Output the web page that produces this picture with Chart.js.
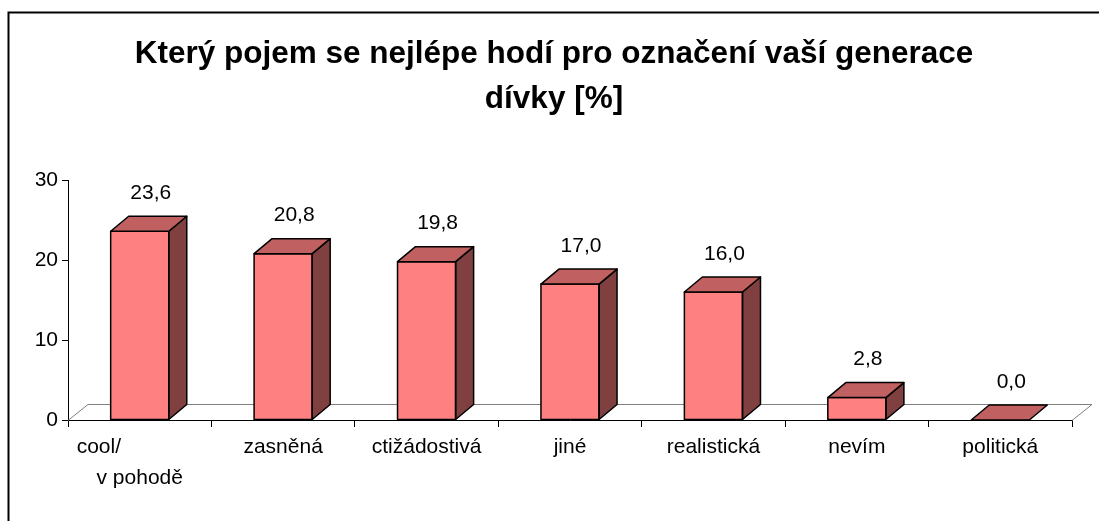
<!DOCTYPE html>
<html>
<head>
<meta charset="utf-8">
<script src="https://cdn.jsdelivr.net/npm/chart.js@4/dist/chart.umd.min.js"></script>
<style>
  body { margin: 0; background: #fff; }
  canvas { display: block; }
</style>
</head>
<body>
<canvas id="chart" width="1099" height="521"></canvas>
<script>
// data
const categories = [['cool/', 'v pohodě'], 'zasněná', 'ctižádostivá', 'jiné', 'realistická', 'nevím', 'politická'];
const values = [23.6, 20.8, 19.8, 17.0, 16.0, 2.8, 0.0];
const yTicks = [0, 10, 20, 30];
const titleLines = ['Který pojem se nejlépe hodí pro označení vaší generace', 'dívky [%]'];

// 3D look
const DX = 18, DY = -15;        // bar depth
const FX = 20, FY = -16;        // floor depth
const frontCol = '#ff8080', topCol = '#c06060', sideCol = '#804040';

Chart.defaults.font.family = '"Liberation Sans", Arial, sans-serif';
Chart.defaults.color = '#000';

const framePlugin = {
  id: 'frame',
  beforeDraw(chart) {
    const c = chart.ctx;
    c.save();
    c.fillStyle = '#fff';
    c.fillRect(0, 0, chart.width, chart.height);
    c.strokeStyle = '#000';
    c.lineWidth = 2;
    c.strokeRect(8.5, 12.5, chart.width + 20, chart.height + 20);
    c.restore();
  }
};

const floorPlugin = {
  id: 'floor',
  beforeDatasetsDraw(chart) {
    const c = chart.ctx, a = chart.chartArea;
    const y0 = chart.scales.y.getPixelForValue(0);
    c.save();
    c.strokeStyle = '#808080';
    c.lineWidth = 1;
    c.beginPath();
    c.moveTo(a.left, y0 + 0.5);
    c.lineTo(a.left + FX, y0 + FY + 0.5);
    c.lineTo(a.right + FX, y0 + FY + 0.5);
    c.lineTo(a.right, y0 + 0.5);
    c.stroke();
    c.restore();
  }
};

const boxPlugin = {
  id: 'box3d',
  afterDatasetsDraw(chart) {
    const c = chart.ctx;
    const meta = chart.getDatasetMeta(0);
    c.save();
    c.lineWidth = 1.5;
    c.lineJoin = 'round';
    c.strokeStyle = '#000';
    meta.data.forEach((bar, i) => {
      const xl = bar.x - bar.width / 2, xr = bar.x + bar.width / 2;
      const yt = bar.y, yb = bar.base;
      // side
      if (yb - yt > 0.5) {
        c.beginPath();
        c.moveTo(xr, yt);
        c.lineTo(xr + DX, yt + DY);
        c.lineTo(xr + DX, yb + DY);
        c.lineTo(xr, yb);
        c.closePath();
        c.fillStyle = sideCol;
        c.fill();
        c.stroke();
        c.beginPath();
        c.rect(xl, yt, xr - xl, yb - yt);
        c.stroke();
      }
      // top
      c.beginPath();
      c.moveTo(xl, yt);
      c.lineTo(xl + DX, yt + DY);
      c.lineTo(xr + DX, yt + DY);
      c.lineTo(xr, yt);
      c.closePath();
      c.fillStyle = topCol;
      c.fill();
      c.stroke();
      // value label
      c.fillStyle = '#000';
      c.font = '21px "Liberation Sans", Arial, sans-serif';
      c.textAlign = 'center';
      c.textBaseline = 'middle';
      c.fillText(values[i].toFixed(1).replace('.', ','), bar.x + 11, yt + DY - 23);
    });
    c.restore();
  }
};

new Chart(document.getElementById('chart'), {
  type: 'bar',
  data: {
    labels: categories,
    datasets: [{
      data: values,
      backgroundColor: frontCol,
      borderColor: '#000',
      borderWidth: 0,
      categoryPercentage: 1,
      barPercentage: 0.405
    }]
  },
  options: {
    responsive: false,
    animation: false,
    layout: { padding: { left: 36, right: 27, top: 0, bottom: 0 } },
    plugins: {
      legend: { display: false },
      tooltip: { enabled: false },
      title: {
        display: true,
        text: titleLines,
        color: '#000',
        font: { size: 31.5, weight: 'bold', lineHeight: 1.43 },
        padding: { top: 32, bottom: 58 }
      }
    },
    scales: {
      x: {
        grid: { drawOnChartArea: false, tickLength: 7, color: '#000', offset: true },
        border: { display: true, color: '#000', width: 1 },
        ticks: {
          font: { size: 21, lineHeight: 1.5 },
          color: '#000',
          padding: 4,
          maxRotation: 0,
          autoSkip: false,
          callback(v, i) {
            const l = categories[i];
            // first label sits left in the original
            return Array.isArray(l) ? [l[0] + '\u00a0'.repeat(14), l[1]] : l;
          }
        },
        afterFit(s) { s.height = 101; }
      },
      y: {
        min: 0,
        max: 30,
        afterBuildTicks(s) { s.ticks = yTicks.map(v => ({ value: v })); },
        grid: { drawOnChartArea: false, tickLength: 6, color: '#000' },
        border: { display: true, color: '#000', width: 1 },
        ticks: { font: { size: 21 }, color: '#000', padding: 4 },
        afterFit(s) { s.width = 32; }
      }
    }
  },
  plugins: [framePlugin, floorPlugin, boxPlugin]
});
</script>
</body>
</html>
